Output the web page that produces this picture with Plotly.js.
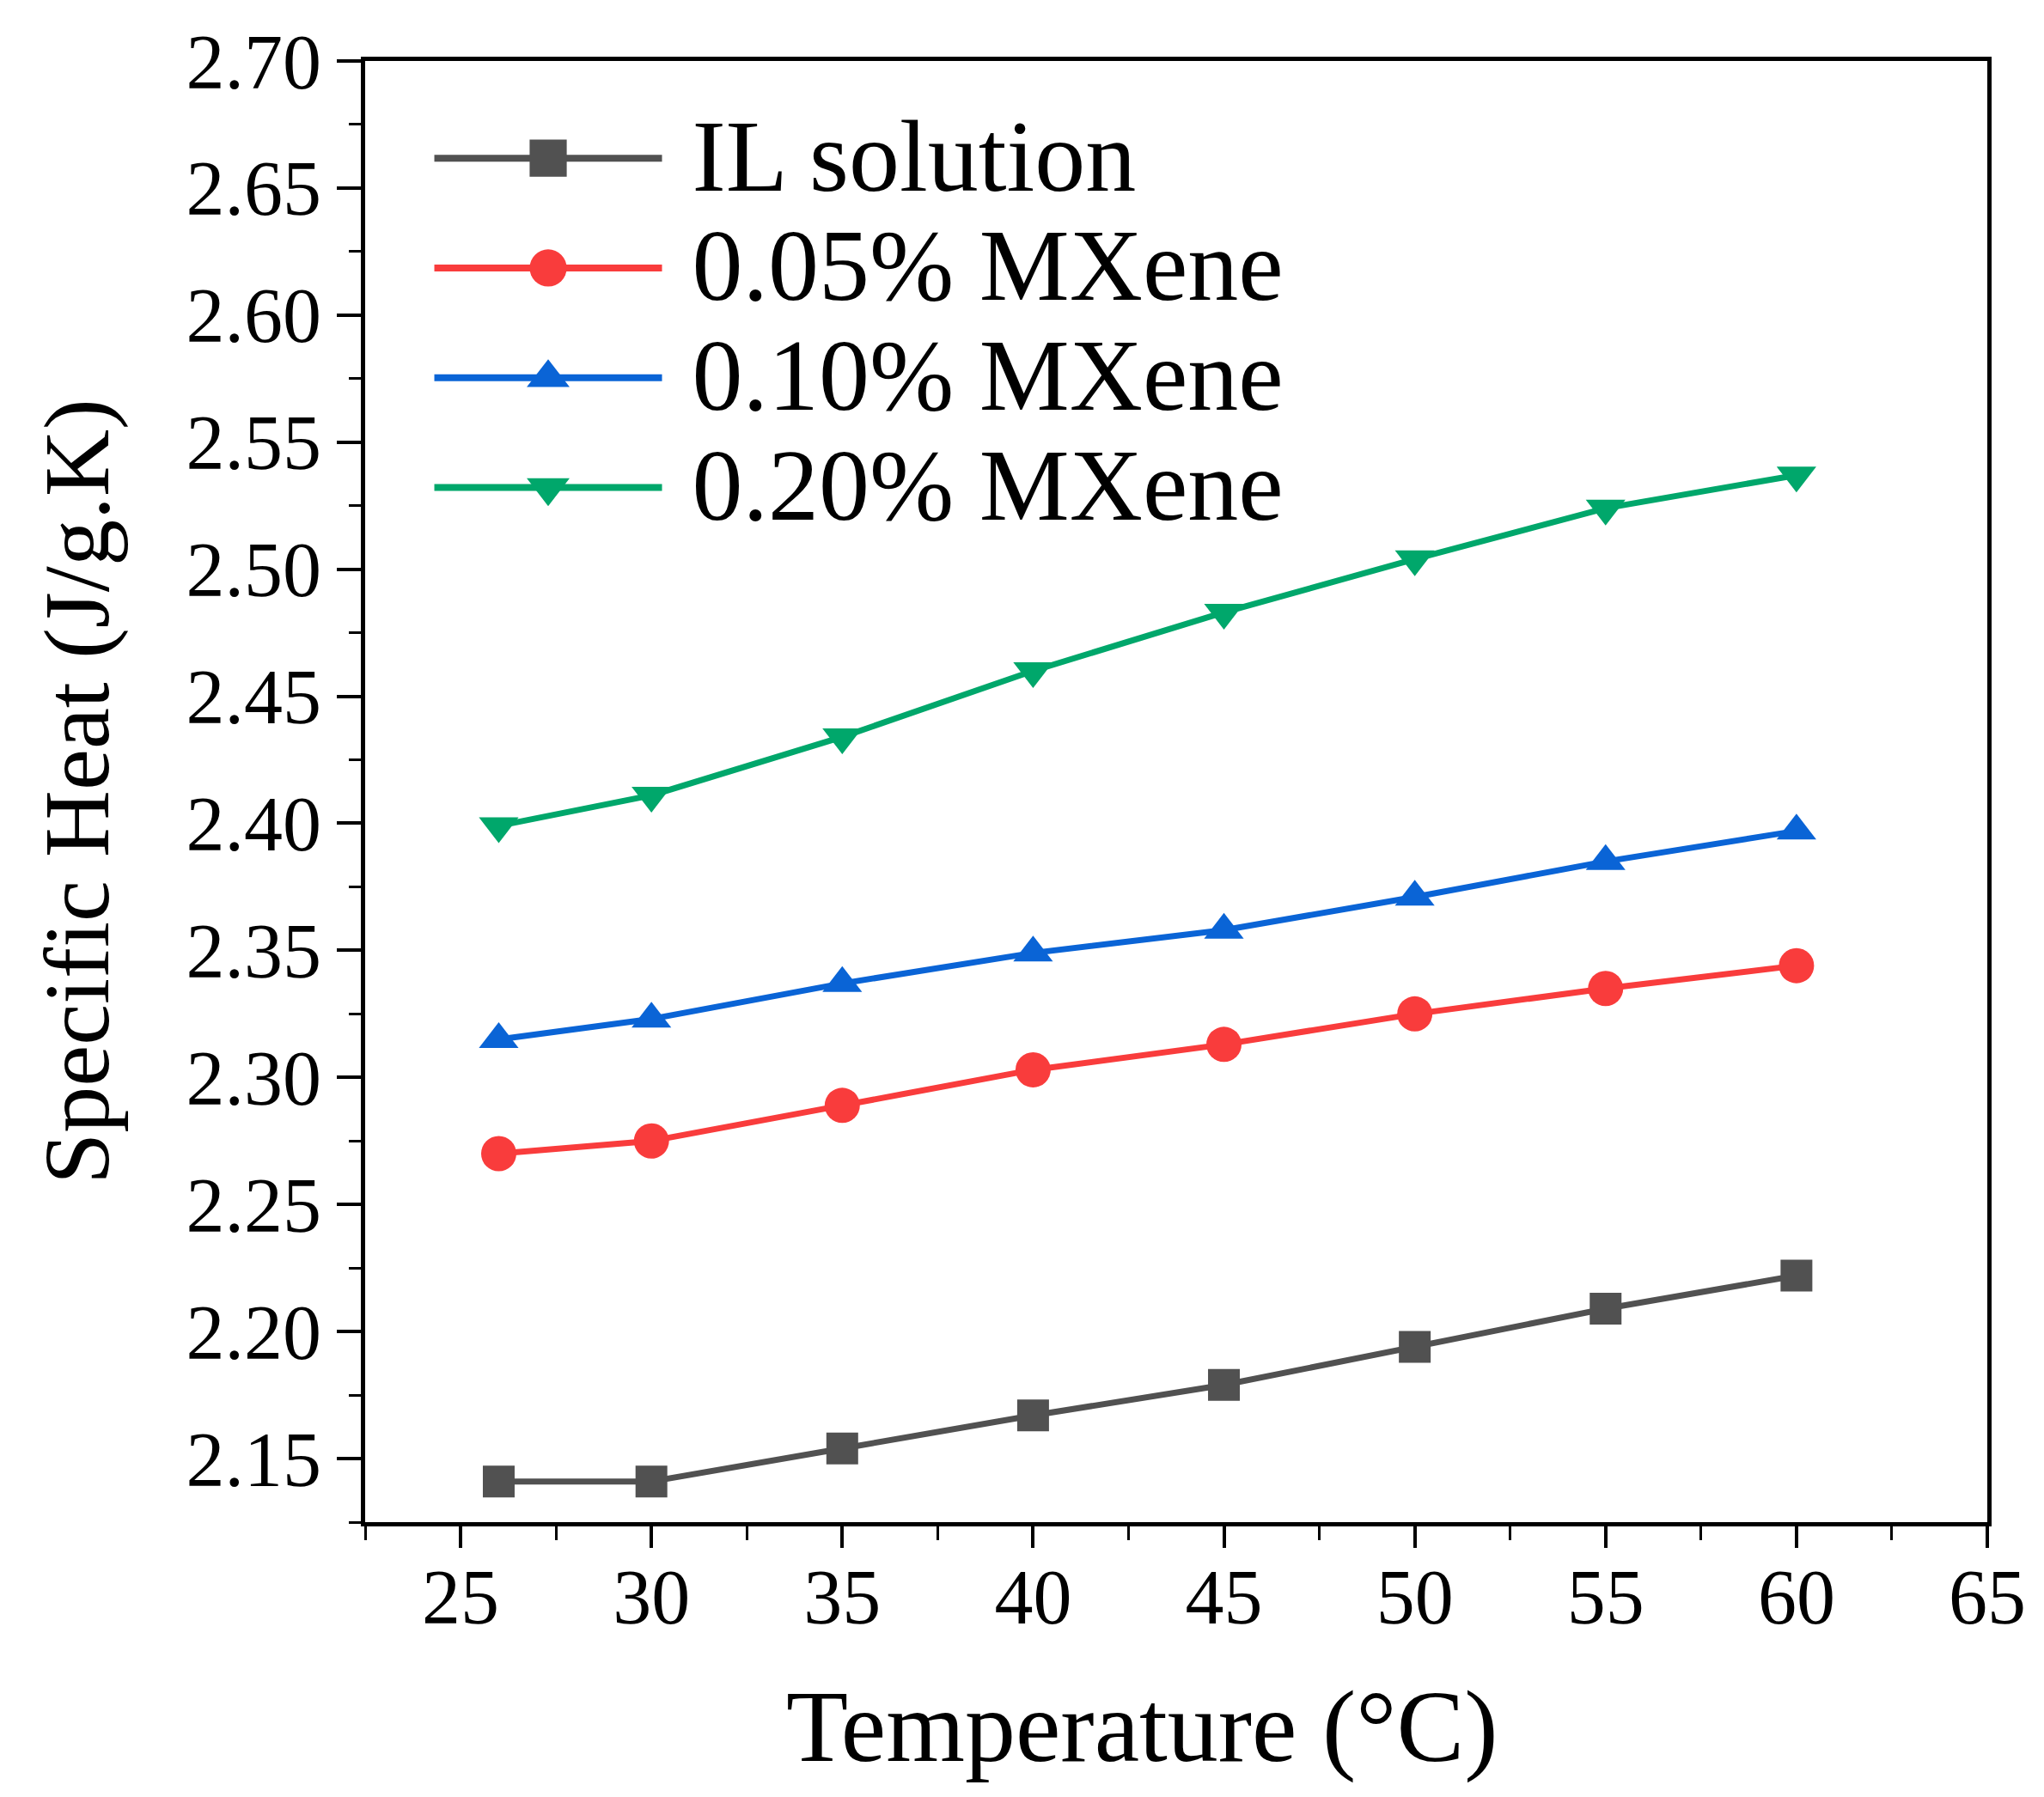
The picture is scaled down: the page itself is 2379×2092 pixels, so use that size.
<!DOCTYPE html>
<html>
<head>
<meta charset="utf-8">
<script src="https://cdn.plot.ly/plotly-3.0.1.min.js"></script>
<style>
  html, body { margin: 0; padding: 0; background: #ffffff; }
  #specificHeatPlot { width: 2379px; height: 2092px; }
</style>
</head>
<body>
<div id="specificHeatPlot"></div>
<script>
// temperature points (°C)
var temperature = [26, 30, 35, 40, 45, 50, 55, 60];

// specific heat (J/g.K)
var ilSolution = [2.141, 2.141, 2.154, 2.167, 2.179, 2.194, 2.209, 2.222];
var mxene005 = [2.270, 2.275, 2.289, 2.303, 2.313, 2.325, 2.335, 2.344];
var mxene010 = [2.315, 2.323, 2.337, 2.349, 2.358, 2.371, 2.385, 2.397];
var mxene020 = [2.399, 2.411, 2.434, 2.460, 2.483, 2.504, 2.524, 2.537];

var seriesNames = ['IL solution', '0.05% MXene', '0.10% MXene', '0.20% MXene'];

// bump the legend swatches up to the size used in the original figure
function restyleLegend(gd) {
  var scrollbox = gd.querySelector('.legend .scrollbox');
  if (scrollbox) scrollbox.removeAttribute('clip-path');
  gd.querySelectorAll('.legend .traces').forEach(function (item) {
    item.querySelectorAll('.legendpoints path').forEach(function (p) {
      p.setAttribute('transform', (p.getAttribute('transform') || '') + ' scale(2.7)');
    });
    item.querySelectorAll('.legendlines path').forEach(function (p) {
      p.style.strokeWidth = '8px';
    });
    var txt = item.querySelector('text.legendtext');
    if (txt) {
      txt.style.fontSize = '118px';
      txt.setAttribute('x', +txt.getAttribute('x') + 30);
    }
  });
}

function createSpecificHeatPlot() {
  var fontFamily = 'Liberation Serif, Times New Roman, serif';

  var traceIL = {
    x: temperature,
    y: ilSolution,
    mode: 'lines+markers',
    name: seriesNames[0],
    line: { color: '#515151', width: 7 },
    marker: { symbol: 'square', size: 37, color: '#515151' }
  };

  var trace005 = {
    x: temperature,
    y: mxene005,
    mode: 'lines+markers',
    name: seriesNames[1],
    line: { color: '#f93c3c', width: 7 },
    marker: { symbol: 'circle', size: 41, color: '#f93c3c' }
  };

  var trace010 = {
    x: temperature,
    y: mxene010,
    mode: 'lines+markers',
    name: seriesNames[2],
    line: { color: '#0a64d6', width: 7 },
    marker: { symbol: 'triangle-up', size: 40, color: '#0a64d6' }
  };

  var trace020 = {
    x: temperature,
    y: mxene020,
    mode: 'lines+markers',
    name: seriesNames[3],
    line: { color: '#00a76b', width: 7 },
    marker: { symbol: 'triangle-down', size: 40, color: '#00a76b' }
  };

  var data = [traceIL, trace005, trace010, trace020];

  var layout = {
    width: 2379,
    height: 2092,
    margin: { l: 425, r: 66, t: 71, b: 320 },
    paper_bgcolor: '#ffffff',
    plot_bgcolor: '#ffffff',
    font: { family: fontFamily, color: '#000000' },
    showlegend: true,
    legend: {
      x: 0.04,
      y: 0.974,
      xanchor: 'left',
      yanchor: 'top',
      bgcolor: 'rgba(0,0,0,0)',
      itemwidth: 265,
      font: { family: fontFamily, size: 96, color: '#000000' }
    },
    xaxis: {
      range: [22.5, 65],
      tick0: 25,
      dtick: 5,
      ticks: 'outside',
      ticklen: 25,
      tickwidth: 4,
      tickcolor: '#000000',
      ticklabelstandoff: -20,
      showline: true,
      linewidth: 5,
      linecolor: '#000000',
      mirror: true,
      showgrid: false,
      zeroline: false,
      tickfont: { family: fontFamily, size: 90, color: '#000000' },
      minor: { dtick: 2.5, ticks: 'outside', ticklen: 16, tickwidth: 3, tickcolor: '#000000', showgrid: false }
    },
    yaxis: {
      range: [2.125, 2.70],
      tick0: 2.15,
      dtick: 0.05,
      tickformat: '.2f',
      ticks: 'outside',
      ticklen: 28,
      tickwidth: 4,
      tickcolor: '#000000',
      showline: true,
      linewidth: 5,
      linecolor: '#000000',
      mirror: true,
      showgrid: false,
      zeroline: false,
      tickfont: { family: fontFamily, size: 90, color: '#000000' },
      minor: { dtick: 0.025, ticks: 'outside', ticklen: 14, tickwidth: 3, tickcolor: '#000000', showgrid: false },
      title: {
        text: 'Specific Heat (J/g.K)',
        standoff: 55,
        font: { family: fontFamily, size: 108, color: '#000000' }
      }
    },
    annotations: [{
      text: 'Temperature (°C)',
      xref: 'paper',
      yref: 'paper',
      x: 0.479,
      y: -0.14,
      xanchor: 'center',
      yanchor: 'middle',
      showarrow: false,
      font: { family: fontFamily, size: 118, color: '#000000' }
    }]
  };

  var plotDiv = document.getElementById('specificHeatPlot');
  Plotly.newPlot(plotDiv, data, layout, { staticPlot: true }).then(restyleLegend);
}

createSpecificHeatPlot();
</script>
</body>
</html>
